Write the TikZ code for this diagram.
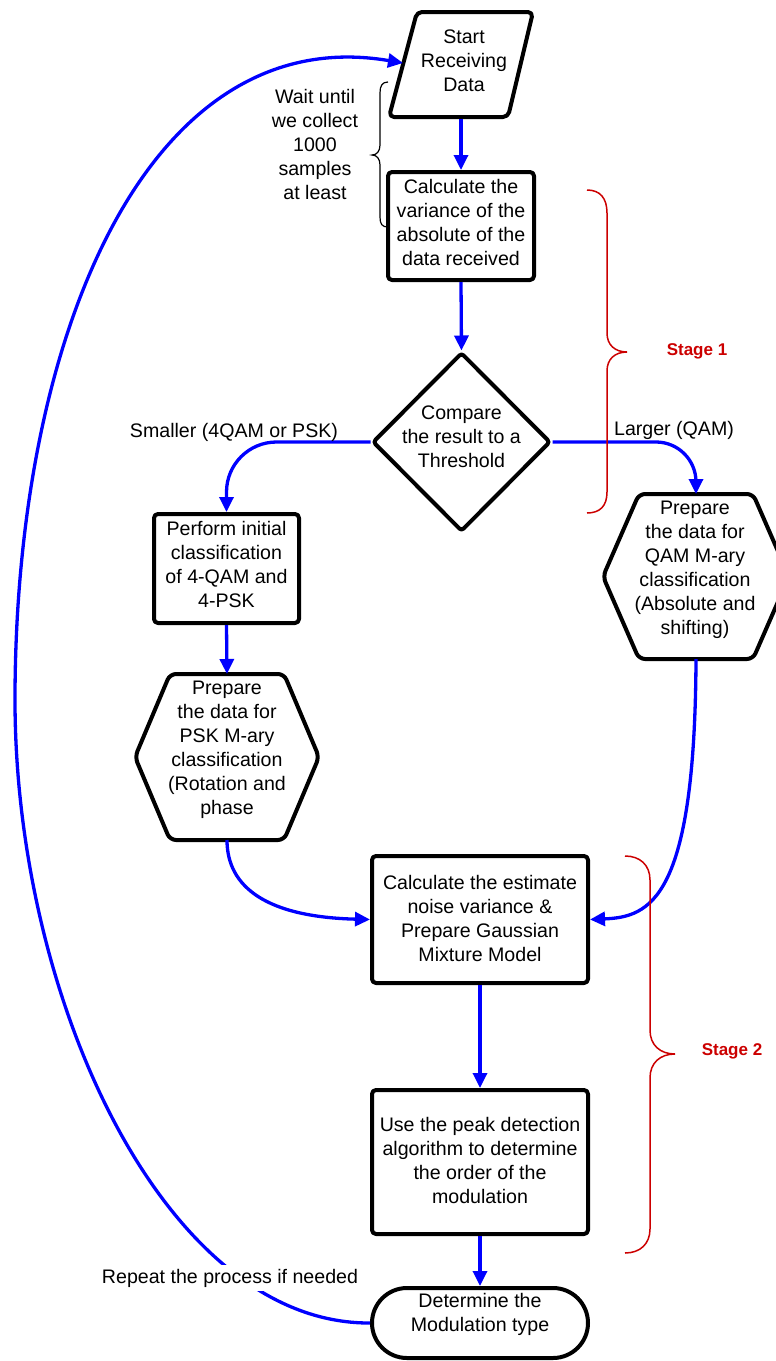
\documentclass[tikz,border=0pt]{standalone}
\usepackage{fontspec}
\setmainfont{Liberation Sans}
\usetikzlibrary{arrows.meta,shapes.geometric}
\definecolor{stagered}{RGB}{204,0,0}
\definecolor{flowblue}{RGB}{0,0,255}
\begin{document}
\begin{tikzpicture}[x=1pt,y=-1pt,
  every node/.style={font=\fontsize{19.6}{24}\selectfont, align=center, inner sep=0pt},
  outline/.style={draw=black, line width=4pt, rounded corners=4pt, line join=round},
  procbox/.style={outline, rectangle, outer sep=2pt},
  hexholder/.style={rectangle, outer sep=2pt},
  flow/.style={draw=flowblue, line width=3.3pt, -{Triangle[length=15pt,width=14pt]}},
  stagebrace/.style={draw=stagered, line width=1.5pt},
  notebrace/.style={draw=black, line width=1.2pt},
  stagelabel/.style={text=stagered, font=\bfseries\fontsize{17}{20}\selectfont}]

% page background
\path[use as bounding box, fill=white] (0,0) rectangle (776,1361);

% start: parallelogram
\draw[outline, rounded corners=5pt] (417,12) -- (533,12) -- (508,117) -- (389,117) -- cycle;
\node[minimum width=100pt, minimum height=105pt, outer sep=2pt] (start) at (461,64.5) {};
\node (starttext) at (464,61) {Start\\Receiving\\Data};
\coordinate (loopend) at (403,63);

% variance box
\node[procbox, minimum width=146pt, minimum height=108pt] (var) at (461,226) {};
\node (vartext) at (461,222) {Calculate the\\variance of the\\absolute of the\\data received};

% decision
\node[diamond, aspect=1, outline, rounded corners=3pt, minimum width=178pt, minimum height=179pt, outer sep=2pt] (cmp) at (461.5,442) {};
\node (cmptext) at (461.5,437) {Compare\\the result to a\\Threshold};

% initial classification box
\node[procbox, minimum width=145pt, minimum height=109pt] (init) at (226.5,568.5) {};
\node (inittext) at (226.5,564) {Perform initial\\classification\\of 4-QAM and\\4-PSK};

% PSK preparation (hexagon)
\node[hexholder, minimum width=180pt, minimum height=162pt] (hexL) at (227,757) {};
\draw[outline, rounded corners=6pt] (hexL.west) -- ([xshift=-57pt]hexL.north) -- ([xshift=57pt]hexL.north)
  -- (hexL.east) -- ([xshift=57pt]hexL.south) -- ([xshift=-57pt]hexL.south) -- cycle;
\node (hexLtext) at (227,750) {Prepare\\the data for\\PSK M-ary\\classification\\(Rotation and\\phase};

% QAM preparation (hexagon)
\node[hexholder, minimum width=182pt, minimum height=161pt] (hexR) at (696,576.5) {};
\draw[outline, rounded corners=6pt] (hexR.west) -- ([xshift=-57pt]hexR.north) -- ([xshift=57pt]hexR.north)
  -- (hexR.east) -- ([xshift=57pt]hexR.south) -- ([xshift=-57pt]hexR.south) -- cycle;
\node (hexRtext) at (695,570) {Prepare\\the data for\\QAM M-ary\\classification\\(Absolute and\\shifting)};

% stage 2 boxes
\node[procbox, minimum width=216pt, minimum height=127pt] (noise) at (480,919.5) {};
\node (noisetext) at (480,918) {Calculate the estimate\\noise variance \&\\Prepare Gaussian\\Mixture Model};
\node[procbox, minimum width=216pt, minimum height=144pt] (peak) at (480,1162) {};
\node (peaktext) at (480,1160) {Use the peak detection\\algorithm to determine\\the order of the\\modulation};

% terminal
\node[outline, rectangle, rounded corners=35pt, minimum width=216pt, minimum height=70pt, outer sep=2pt] (term) at (480,1323) {};
\node (termtext) at (480,1314) {Determine the\\Modulation type};

% connectors
\draw[flow] (start.south) -- (var.north);
\draw[flow] (var.south) -- (cmp.north);
\draw[flow, rounded corners=50pt] (cmp.west) -| (init.north);
\draw[flow, rounded corners=40pt] (cmp.east) -| (hexR.north);
\draw[flow] (init.south) -- (hexL.north);
\draw[flow] (hexL.south) .. controls (227,888) and (268,917) .. (noise.west);
\draw[flow] (hexR.south) .. controls (695,900) and (650,917) .. (noise.east);
\draw[flow] (noise.south) -- (peak.north);
\draw[flow] (peak.south) -- (term.north);
\draw[flow] (term.west) .. controls (165,1324) and (15,1000) .. (15,700)
  .. controls (15,330) and (150,20) .. (loopend);

% branch labels
\node (small) at (234,432) {Smaller (4QAM or PSK)};
\node (large) at (674,430) {Larger (QAM)};
\node[fill=white, inner xsep=3pt, inner ysep=4pt] (repeat) at (230,1278) {Repeat the process if needed};

% waiting note with brace
\draw[notebrace] (388,82) .. controls (382,82) and (380,86) .. (380,93) -- (380,145)
  .. controls (380,151) and (377,155) .. (372,155)
  .. controls (377,155) and (380,159) .. (380,165) -- (380,217)
  .. controls (380,224) and (382,227) .. (388,227);
\node (wait) at (315,144) {Wait until\\we collect\\1000\\samples\\at least};

% stage 1 brace
\draw[stagebrace] (587,190) .. controls (600,190) and (607,198) .. (607,213) -- (607,333)
  .. controls (607,345) and (615,352) .. (627,352)
  .. controls (615,352) and (607,359) .. (607,371) -- (607,492)
  .. controls (607,506) and (600,513) .. (587,513);
\node[stagelabel] (stage1) at (697,351) {Stage 1};

% stage 2 brace
\draw[stagebrace] (625,856) .. controls (640,856) and (650,865) .. (650,880) -- (650,1030)
  .. controls (650,1045) and (660,1054) .. (675,1054)
  .. controls (660,1054) and (650,1063) .. (650,1078) -- (650,1229)
  .. controls (650,1244) and (640,1253) .. (625,1253);
\node[stagelabel] (stage2) at (732,1051) {Stage 2};

\end{tikzpicture}
\end{document}
